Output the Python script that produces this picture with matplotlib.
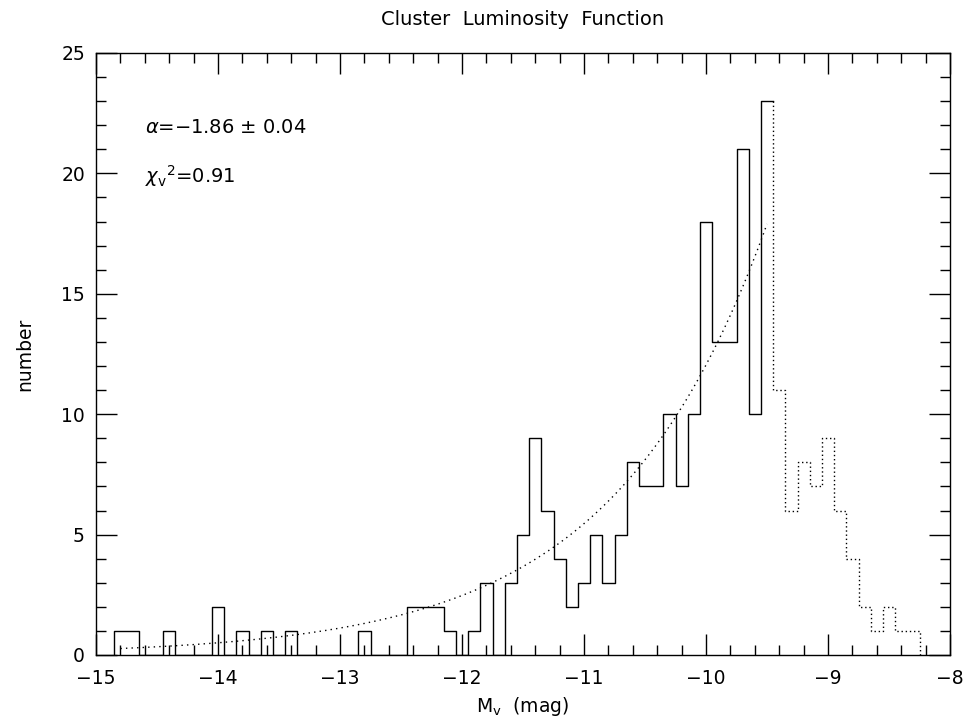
import numpy as np
import matplotlib.pyplot as plt
from matplotlib.ticker import MultipleLocator

# 0.1 mag bins, counts read per bin centre
fit_centers = np.round(np.arange(-14.8, -9.45, 0.1), 2)
fit_counts = [1, 1, 0, 0, 1, 0, 0, 0, 2, 0,
              1, 0, 1, 0, 1, 0, 0, 0, 0, 0,
              1, 0, 0, 0, 2, 2, 2, 1, 0, 1,
              3, 0, 3, 5, 9, 6, 4, 2, 3, 5,
              3, 5, 8, 7, 7, 10, 7, 10, 18, 13,
              13, 21, 10, 23]

faint_centers = np.round(np.arange(-9.4, -8.25, 0.1), 2)
faint_counts = [11, 6, 8, 7, 9, 6, 4, 2, 1, 2, 1, 1]

# power-law fit
alpha = -1.86
alpha_err = 0.04
chi2_nu = 0.91
fit_norm = 17.9      # counts at M = -9.5
fit_range = (-14.8, -9.5)

binw = 0.1

plt.rcParams['font.family'] = 'DejaVu Sans'
plt.rcParams['mathtext.fontset'] = 'dejavusans'

fig = plt.figure(figsize=(9.69, 7.24), dpi=100)
ax = fig.add_axes([96 / 969, 69 / 724, 854 / 969, 602 / 724])

# solid histogram (fitted part), starting from zero
x = np.concatenate([[fit_centers[0] - binw / 2], fit_centers - binw / 2, [fit_centers[-1] + binw / 2]])
y = np.concatenate([[0], fit_counts, [fit_counts[-1]]])
ax.step(x, y, where='post', color='black', lw=1.0)

# dotted histogram (faint end, not fitted)
xf = np.concatenate([[faint_centers[0] - binw / 2], faint_centers - binw / 2,
                     [faint_centers[-1] + binw / 2, faint_centers[-1] + binw / 2]])
yf = np.concatenate([[fit_counts[-1]], faint_counts, [faint_counts[-1], 0]])
ax.step(xf, yf, where='post', color='black', lw=1.0, linestyle=(0, (1, 2)))

# fitted luminosity function
m = np.linspace(fit_range[0], fit_range[1], 200)
n = fit_norm * 10 ** (-0.4 * (alpha + 1) * (m - fit_range[1]))
ax.plot(m, n, color='black', lw=1.0, linestyle=(0, (1, 3)))

ax.set_xlim(-15, -8)
ax.set_ylim(0, 25)
ax.xaxis.set_major_locator(MultipleLocator(1))
ax.xaxis.set_minor_locator(MultipleLocator(0.2))
ax.yaxis.set_major_locator(MultipleLocator(5))
ax.yaxis.set_minor_locator(MultipleLocator(1))
ax.tick_params(which='both', direction='in', top=True, right=True, width=1.0, colors='black')
ax.tick_params(which='major', length=15, labelsize=13.5)
ax.tick_params(axis='x', which='major', pad=10)
ax.tick_params(axis='y', which='major', pad=8)
ax.tick_params(which='minor', length=7.5)
for s in ax.spines.values():
    s.set_linewidth(1.0)

ax.set_xlabel(r'M$_{\mathrm{v}}$  (mag)', fontsize=13.5, labelpad=5)
ax.set_ylabel('number', fontsize=13.5, labelpad=19)
ax.set_title('Cluster  Luminosity  Function', fontsize=14, pad=20)

ax.text(-14.6, 21.9, r'$\alpha$=$-$' + f'{-alpha:.2f}' + r' $\pm$ ' + f'{alpha_err:.2f}',
        fontsize=14, va='center', ha='left')
ax.text(-14.6, 19.9, r'$\chi_{\mathrm{v}}{}^{2}$=' + f'{chi2_nu:.2f}', fontsize=14, va='center', ha='left')

fig.savefig('out.png', dpi=100)
